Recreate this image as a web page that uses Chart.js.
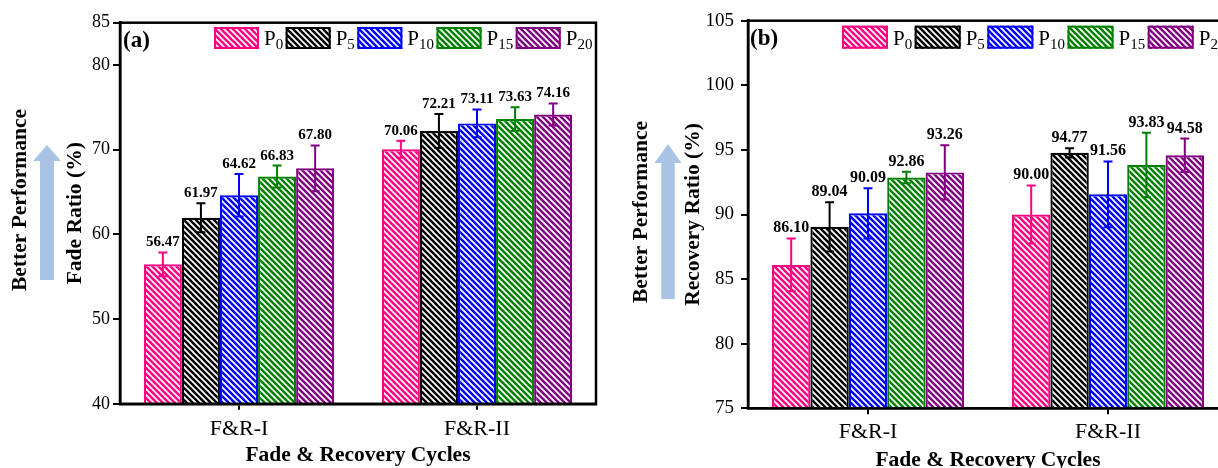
<!DOCTYPE html>
<html><head><meta charset="utf-8">
<script src="https://cdn.jsdelivr.net/npm/chart.js@4.4.1/dist/chart.umd.min.js"></script>
<style>
html,body{margin:0;padding:0;background:#fff;overflow:hidden;width:1218px;height:468px;}
#wa{position:absolute;left:0;top:0;width:610px;height:468px;}
#wb{position:absolute;left:610px;top:0;width:640px;height:473px;}
</style></head><body>
<div id="wa"><canvas id="ca" width="610" height="468"></canvas></div>
<div id="wb"><canvas id="cb" width="640" height="473"></canvas></div>
<script>
// ---------- DATA ----------
const categories = ['F&R-I', 'F&R-II'];
const seriesSubs = ['0', '5', '10', '15', '20'];
const seriesColors = ['#ff0080', '#000000', '#0000ff', '#008000', '#800080'];

const fadeP0 = [56.47, 70.06];
const fadeP5 = [61.97, 72.21];
const fadeP10 = [64.62, 73.11];
const fadeP15 = [66.83, 73.63];
const fadeP20 = [67.80, 74.16];
const fadeErrP0 = [1.4, 1.0];
const fadeErrP5 = [1.7, 2.0];
const fadeErrP10 = [2.5, 1.65];
const fadeErrP15 = [1.3, 1.4];
const fadeErrP20 = [2.7, 1.3];
const fadeTicks = [40, 50, 60, 70, 80, 85];

const recP0 = [86.10, 90.00];
const recP5 = [89.04, 94.77];
const recP10 = [90.09, 91.56];
const recP15 = [92.86, 93.83];
const recP20 = [93.26, 94.58];
const recErrP0 = [2.05, 2.25];
const recErrP5 = [1.9, 0.35];
const recErrP10 = [1.95, 2.55];
const recErrP15 = [0.45, 2.5];
const recErrP20 = [2.1, 1.3];
const recTicks = [75, 80, 85, 90, 95, 100, 105];

const FONT = '"Liberation Serif", "Times New Roman", serif';

function hatch(color) {
  const s = 6;
  const c = document.createElement('canvas'); c.width = s; c.height = s;
  const x = c.getContext('2d');
  x.fillStyle = '#fff'; x.fillRect(0, 0, s, s);
  x.strokeStyle = color; x.lineWidth = 2.5;
  x.beginPath();
  x.moveTo(-1, -1); x.lineTo(s + 1, s + 1);
  x.moveTo(-1, s - 1); x.lineTo(1, s + 1);
  x.moveTo(s - 1, -1); x.lineTo(s + 1, 1);
  x.stroke();
  return x.createPattern(c, 'repeat');
}

const errPlugin = {
  id: 'errbars',
  afterDatasetsDraw(chart) {
    const o = chart.options.plugins.errbars;
    const ctx = chart.ctx, y = chart.scales.y;
    const items = [];
    chart.data.datasets.forEach((ds, i) => {
      chart.getDatasetMeta(i).data.forEach((bar, j) => {
        const v = ds.data[j], e = ds.errors[j];
        const yt = y.getPixelForValue(v + e), yb = y.getPixelForValue(v - e);
        ctx.save();
        ctx.strokeStyle = ds.borderColor; ctx.lineWidth = 2;
        ctx.beginPath();
        ctx.moveTo(bar.x, yt); ctx.lineTo(bar.x, yb);
        ctx.moveTo(bar.x - 4.5, yt); ctx.lineTo(bar.x + 4.5, yt);
        ctx.moveTo(bar.x - 4.5, yb); ctx.lineTo(bar.x + 4.5, yb);
        ctx.stroke();
        ctx.restore();
        items.push([v.toFixed(2), bar.x, yt]);
      });
    });
    ctx.save();
    ctx.fillStyle = '#000'; ctx.font = o.labelFont;
    ctx.textAlign = 'center'; ctx.textBaseline = 'alphabetic';
    items.forEach(([t, x, yt]) => ctx.fillText(t, x, yt - 6));
    ctx.restore();
  }
};

const decoPlugin = {
  id: 'deco',
  afterDraw(chart) {
    const o = chart.options.plugins.deco;
    const ctx = chart.ctx, a = chart.chartArea;
    ctx.save();
    ctx.strokeStyle = '#000'; ctx.lineWidth = 2.5;
    ctx.strokeRect(a.left, a.top, a.right - a.left, a.bottom - a.top);
    ctx.fillStyle = '#000';
    ctx.font = 'bold 23px ' + FONT; ctx.textAlign = 'left'; ctx.textBaseline = 'alphabetic';
    ctx.fillText(o.letter, a.left + o.letterDx, o.letterBase);
    let x = a.left + 94;
    chart.data.datasets.forEach((ds, i) => {
      ctx.fillStyle = ds.backgroundColor;
      ctx.fillRect(x, o.legTop, o.boxW, o.boxH);
      ctx.strokeStyle = ds.borderColor; ctx.lineWidth = 2;
      ctx.strokeRect(x + 1, o.legTop + 1, o.boxW - 2, o.boxH - 2);
      x += o.boxW + 5;
      ctx.fillStyle = '#000';
      ctx.font = '21px ' + FONT;
      ctx.fillText('P', x, o.pBase);
      x += ctx.measureText('P').width;
      ctx.font = '15px ' + FONT;
      ctx.fillText(seriesSubs[i], x, o.subBase);
      x += ctx.measureText(seriesSubs[i]).width + 2.5;
    });
    const ar = o.arrow;
    ctx.fillStyle = '#a9c3e4';
    ctx.beginPath();
    ctx.moveTo(ar.cx, ar.tip);
    ctx.lineTo(ar.cx + ar.hw / 2, ar.tip + ar.hh);
    ctx.lineTo(ar.cx + ar.sw / 2, ar.tip + ar.hh);
    ctx.lineTo(ar.cx + ar.sw / 2, ar.bottom);
    ctx.lineTo(ar.cx - ar.sw / 2, ar.bottom);
    ctx.lineTo(ar.cx - ar.sw / 2, ar.tip + ar.hh);
    ctx.lineTo(ar.cx - ar.hw / 2, ar.tip + ar.hh);
    ctx.closePath(); ctx.fill();
    ctx.translate(o.bpX, o.bpY); ctx.rotate(-Math.PI / 2);
    ctx.fillStyle = '#000'; ctx.font = 'bold 21.5px ' + FONT;
    ctx.textAlign = 'center'; ctx.textBaseline = 'middle';
    ctx.fillText('Better Performance', 0, 0);
    ctx.restore();
  }
};

function makeDatasets(vals, errs) {
  return vals.map((v, i) => ({
    label: 'P' + seriesSubs[i],
    data: v,
    errors: errs[i],
    backgroundColor: hatch(seriesColors[i]),
    borderColor: seriesColors[i],
    borderWidth: 2.2,
    borderSkipped: 'bottom',
    categoryPercentage: 0.8,
    barPercentage: 1.0
  }));
}

function build(canvas, p) {
  return new Chart(canvas, {
    type: 'bar',
    data: { labels: categories, datasets: makeDatasets(p.vals, p.errs) },
    plugins: [errPlugin, decoPlugin],
    options: {
      responsive: false, animation: false, devicePixelRatio: 1,
      layout: { padding: p.pad },
      plugins: {
        legend: { display: false }, tooltip: { enabled: false },
        errbars: { labelFont: p.labelFont },
        deco: p.deco
      },
      scales: {
        x: {
          offset: true,
          grid: { display: true, drawOnChartArea: false, offset: false, tickLength: 6, color: '#000', lineWidth: 2 },
          border: { display: true, color: '#000', width: 2.5 },
          ticks: { color: '#000', font: { family: FONT, size: 22 }, padding: p.xTickPad, maxRotation: 0 },
          title: { display: true, text: 'Fade & Recovery Cycles', color: '#000', font: { family: FONT, size: 21.5, weight: 'bold' }, padding: { top: 0, bottom: 0 } },
          afterFit(s) { s.height = p.xHeight; }
        },
        y: {
          min: p.ymin, max: p.ymax,
          afterBuildTicks(s) { s.ticks = p.ticks.map(v => ({ value: v })); },
          grid: { display: true, drawOnChartArea: false, tickLength: 7, color: '#000', lineWidth: 2 },
          border: { display: true, color: '#000', width: 2.5 },
          ticks: { color: '#000', font: { family: FONT, size: p.yTickSize }, padding: p.yTickPad },
          title: { display: true, text: p.yTitle, color: '#000', font: { family: FONT, size: 21.5, weight: 'bold' }, padding: { top: p.yTitlePad, bottom: 0 } },
          afterFit(s) { s.width = p.yWidth; }
        }
      }
    }
  });
}

build(document.getElementById('ca'), {
  vals: [fadeP0, fadeP5, fadeP10, fadeP15, fadeP20],
  errs: [fadeErrP0, fadeErrP5, fadeErrP10, fadeErrP15, fadeErrP20],
  ticks: fadeTicks, ymin: 40, ymax: 85,
  pad: { top: 22.7, left: 0, right: 14, bottom: 0 },
  yWidth: 120, xHeight: 64.2, xTickPad: 6, yTickSize: 18, yTickPad: 3,
  yTitle: 'Fade Ratio (%)', yTitlePad: 62.8, labelFont: 'bold 15px ' + FONT,
  deco: {
    letter: '(a)', letterDx: 3, letterBase: 47,
    legTop: 27, boxW: 45, boxH: 22, pBase: 45, subBase: 49.3,
    arrow: { cx: 47, tip: 145, bottom: 280, hh: 16, sw: 14, hw: 28 },
    bpX: 20.5, bpY: 200
  }
});

build(document.getElementById('cb'), {
  vals: [recP0, recP5, recP10, recP15, recP20],
  errs: [recErrP0, recErrP5, recErrP10, recErrP15, recErrP20],
  ticks: recTicks, ymin: 75, ymax: 105,
  pad: { top: 20.7, left: 0, right: 22, bottom: 0 },
  yWidth: 138, xHeight: 64.7, xTickPad: 5, yTickSize: 19, yTickPad: 7,
  yTitle: 'Recovery Ratio (%)', yTitlePad: 70.5, labelFont: 'bold 16px ' + FONT,
  deco: {
    letter: '(b)', letterDx: 2, letterBase: 45,
    legTop: 25.7, boxW: 46, boxH: 23, pBase: 45, subBase: 48.5,
    arrow: { cx: 58, tip: 144, bottom: 299, hh: 19, sw: 13.5, hw: 27 },
    bpX: 31.8, bpY: 212
  }
});
</script>
</body></html>
